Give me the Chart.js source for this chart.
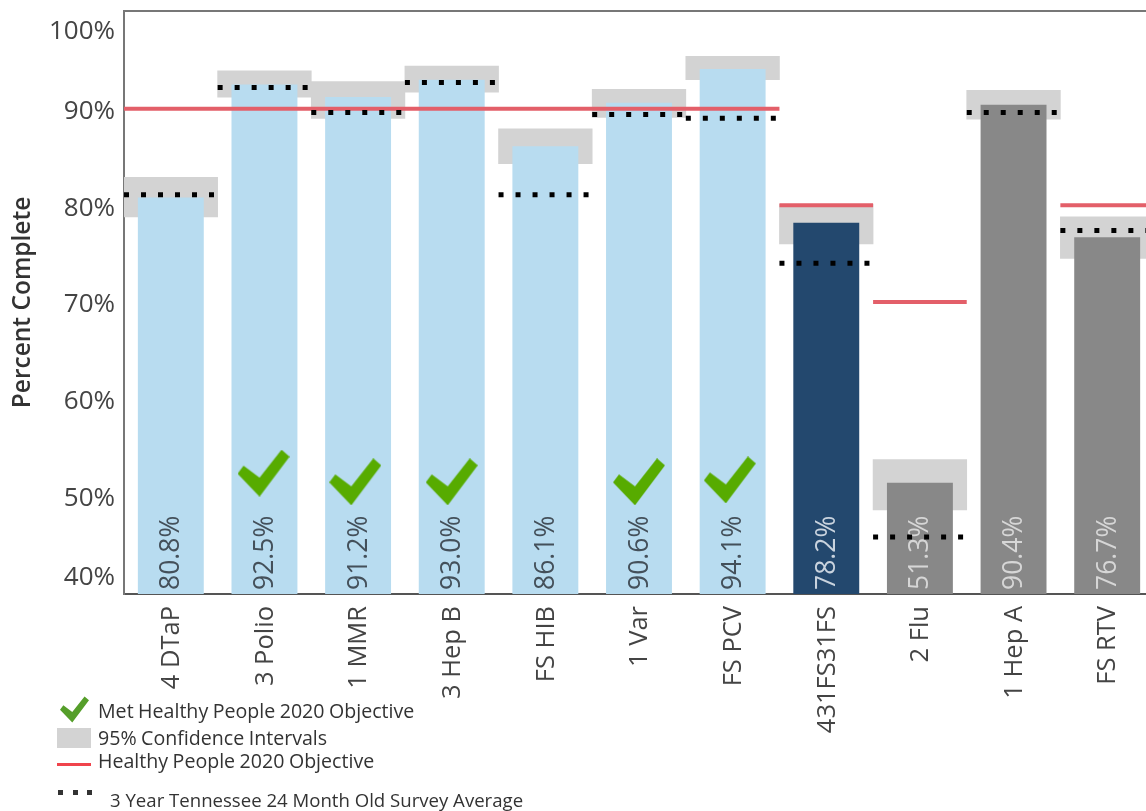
<!DOCTYPE html>
<html>
<head>
<meta charset="utf-8">
<script src="https://cdn.jsdelivr.net/npm/chart.js@4"></script>
<style>
html,body{margin:0;padding:0;background:#fff;width:1146px;height:811px;overflow:hidden;position:relative}
#wrap{position:absolute;left:0;top:0;width:1159px;height:811px}
.t{position:absolute;font-family:"Open Sans",sans-serif;color:#333;white-space:nowrap;line-height:24px;font-size:19.6px;word-spacing:-0.6px}
.s{position:absolute}
</style>
</head>
<body>
<div id="wrap"><canvas id="c" width="1159" height="811"></canvas></div>
<svg class="s" style="left:60px;top:696px" width="29" height="27" viewBox="0 0 52 47"><polygon points="6,16 22,28 44,0 52,7 22,47 0,24" fill="#559E2A"/></svg>
<div class="t" style="left:98px;top:699px">Met Healthy People 2020 Objective</div>
<div class="s" style="left:57px;top:728px;width:34px;height:20px;background:#D3D3D3"></div>
<div class="t" style="left:98px;top:726px">95% Confidence Intervals</div>
<div class="s" style="left:57px;top:763px;width:34px;height:3px;background:#F0444C"></div>
<div class="t" style="left:98px;top:749px">Healthy People 2020 Objective</div>
<div class="s" style="left:58px;top:790px;width:5px;height:5px;background:#333"></div>
<div class="s" style="left:73px;top:790px;width:5px;height:5px;background:#333"></div>
<div class="s" style="left:87px;top:790px;width:5px;height:5px;background:#333"></div>
<div class="t" style="left:110px;top:788px;font-size:18.6px;word-spacing:0">3 Year Tennessee 24 Month Old Survey Average</div>
<script>
const categories = ["4 DTaP","3 Polio","1 MMR","3 Hep B","FS HIB","1 Var","FS PCV","431FS31FS","2 Flu","1 Hep A","FS RTV"];
const percentComplete = [80.8,92.5,91.2,93.0,86.1,90.6,94.1,78.2,51.3,90.4,76.7];
const ciLow  = [78.8,91.2,89.0,91.7,84.3,89.1,93.0,76.0,48.5,88.9,74.5];
const ciHigh = [82.9,93.9,92.8,94.4,87.9,92.0,95.4,80.1,53.7,91.9,78.8];
const objective = [90,90,90,90,90,90,90,80,70,null,80];
const surveyAverage = [81.1,92.2,89.6,92.7,81.1,89.4,89.0,74.0,45.7,89.6,77.4];
const barColors = ["#B8DCF0","#B8DCF0","#B8DCF0","#B8DCF0","#B8DCF0","#B8DCF0","#B8DCF0","#23486E","#888888","#888888","#888888"];
const labelColors = ["#44505a","#44505a","#44505a","#44505a","#44505a","#44505a","#44505a","#c9d3de","#d6d6d6","#d6d6d6","#d6d6d6"];
const checkX = [0.99,1.97,3,5,5.97];
const checkY = [52.3,51.4,51.4,51.4,51.6];
const yTicks = [40,50,60,70,80,90,100];
const yTickLabels = ["40%","50%","60%","70%","80%","90%","100%"];

function stepData(values){
  const out=[];
  values.forEach((v,i)=>{
    if(v===null) return;
    out.push({x:i-0.5,y:v},{x:i+0.5,y:v},{x:i+0.5,y:null});
  });
  return out;
}
const checkImg=document.createElement('canvas');
checkImg.width=52;checkImg.height=47;
(function(){
  const g=checkImg.getContext('2d');
  g.fillStyle='#57AB00';
  g.beginPath();
  [[6,16],[22,28],[44,0],[52,7],[22,47],[0,24]].forEach((p,i)=>i?g.lineTo(p[0],p[1]):g.moveTo(p[0],p[1]));
  g.closePath();g.fill();
})();

const valueLabels={
  id:'valueLabels',
  afterDatasetDraw(chart,args){
    if(args.index!==1) return;
    const ctx=chart.ctx, meta=args.meta, base=chart.scales.y.bottom;
    ctx.save();
    ctx.font='26.5px "Open Sans"';
    ctx.textAlign='left';ctx.textBaseline='middle';
    meta.data.forEach((bar,i)=>{
      ctx.save();
      ctx.translate(bar.x+1,base-4);
      ctx.rotate(-Math.PI/2);
      ctx.fillStyle=labelColors[i];
      ctx.fillText(percentComplete[i].toFixed(1)+'%',0,0);
      ctx.restore();
    });
    ctx.restore();
  }
};
const nudgeLabels={
  id:'nudgeLabels',
  beforeDraw(chart){
    chart.scales.y.getLabelItems().forEach(it=>{it.options.translation[1]+=3;});
    chart.scales.x.getLabelItems().forEach(it=>{it.options.translation[0]+=1;});
  }
};
function noPad(s){s.paddingTop=0;s.paddingBottom=0;s.paddingLeft=0;s.paddingRight=0;}

new Chart(document.getElementById('c'),{
  data:{
    labels:categories,
    datasets:[
      {type:'bar',label:'95% Confidence Intervals',data:ciLow.map((l,i)=>[l,ciHigh[i]]),backgroundColor:'#D3D3D3',barPercentage:1,categoryPercentage:1,grouped:false,order:5},
      {type:'bar',label:'Percent Complete',data:percentComplete,backgroundColor:barColors,barPercentage:0.704,categoryPercentage:1,grouped:false,order:4},
      {type:'line',label:'Healthy People 2020 Objective',xAxisID:'x2',data:stepData(objective),borderColor:'#E35F69',borderWidth:4,pointRadius:0,spanGaps:false,order:3},
      {type:'line',label:'3 Year Tennessee 24 Month Old Survey Average',xAxisID:'x2',data:stepData(surveyAverage),borderColor:'#000',borderWidth:5,borderDash:[5,12],pointRadius:0,spanGaps:false,order:2},
      {type:'scatter',label:'Met Healthy People 2020 Objective',xAxisID:'x2',data:checkX.map((x,i)=>({x,y:checkY[i]})),pointStyle:checkImg,order:1}
    ]
  },
  options:{
    responsive:false,animation:false,
    layout:{padding:{top:11,left:0,right:0,bottom:0}},
    plugins:{legend:{display:false},tooltip:{enabled:false}},
    scales:{
      x:{
        type:'category',position:'bottom',
        grid:{display:false,drawTicks:false},
        border:{display:true,color:'#555',width:2},
        afterFit(s){s.height=217;noPad(s);},
        ticks:{autoSkip:false,minRotation:90,maxRotation:90,padding:12,color:'#444',font:{family:'"Open Sans"',size:25.5}}
      },
      x2:{
        type:'linear',position:'top',min:-0.5,max:10.5,
        grid:{display:false,drawTicks:false},
        border:{display:true,color:'#777',width:2},
        afterFit(s){s.height=0;noPad(s);},
        ticks:{display:false}
      },
      y:{
        type:'linear',min:39.8,max:100.1,
        grid:{display:false,drawTicks:false},
        border:{display:true,color:'#777',width:2},
        afterFit(s){s.width=124;noPad(s);},
        afterBuildTicks(s){s.ticks=yTicks.map(v=>({value:v}));},
        title:{display:true,text:'Percent Complete',color:'#333',font:{family:'"Open Sans"',size:24.5,weight:'600'},padding:{top:8,bottom:0}},
        ticks:{
          padding:9,color:'#444',
          font:{family:'"Open Sans"',size:26,lineHeight:1.31},
          callback(v){
            const i=yTicks.indexOf(v), t=yTickLabels[i];
            if(v===100) return ['',t];
            if(v===40) return [t,''];
            return t;
          }
        }
      }
    }
  },
  plugins:[valueLabels,nudgeLabels]
});
</script>
</body>
</html>
